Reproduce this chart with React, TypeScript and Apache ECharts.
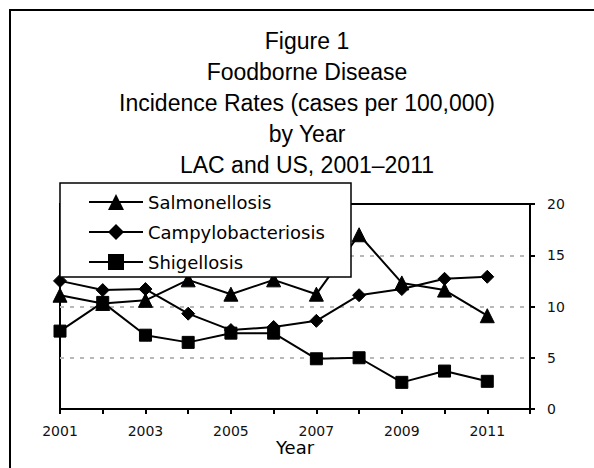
import React, { useEffect, useRef } from "react";
import * as echarts from "echarts";

const years = [2001, 2002, 2003, 2004, 2005, 2006, 2007, 2008, 2009, 2010, 2011];
const salmonellosis = [11.1, 10.3, 10.6, 12.6, 11.2, 12.6, 11.2, 17.0, 12.3, 11.6, 9.1];
const campylobacteriosis = [12.5, 11.6, 11.7, 9.3, 7.7, 8.0, 8.6, 11.1, 11.7, 12.7, 12.9];
const shigellosis = [7.6, 10.4, 7.2, 6.5, 7.4, 7.4, 4.9, 5.0, 2.6, 3.7, 2.7];
const seriesNames = ["Salmonellosis", "Campylobacteriosis", "Shigellosis"];
const titleLines = [
  "Figure 1",
  "Foodborne Disease",
  "Incidence Rates (cases per 100,000)",
  "by Year",
  "LAC and US, 2001\u20132011",
];

const SANS = "'DejaVu Sans', sans-serif";
const ARIAL = "'Liberation Sans', Arial, sans-serif";

export default function App() {
  const ref = useRef<HTMLDivElement>(null);
  useEffect(() => {
    if (!ref.current) return;
    const chart = echarts.init(ref.current, undefined, { renderer: "svg" });
    const mk = (name: string, vals: number[], symbol: string, size: number) => ({
      name,
      type: "line",
      data: years.map((y, i) => [y, vals[i]]),
      symbol,
      symbolSize: size,
      showAllSymbol: true,
      lineStyle: { color: "#000", width: 2 },
      itemStyle: { color: "#000", borderColor: "#000" },
      z: 2,
    });
    chart.setOption({
      animation: false,
      backgroundColor: "#fff",
      title: {
        text: titleLines.join("\n"),
        left: 302,
        top: 20,
        textAlign: "center",
        textStyle: {
          fontFamily: ARIAL,
          fontSize: 23,
          fontWeight: "normal",
          color: "#000",
          lineHeight: 31,
        },
      },
      graphic: [
        {
          type: "rect",
          shape: { x: 10, y: 10, width: 700, height: 600 },
          style: { fill: "none", stroke: "#000", lineWidth: 2 },
          z: 1,
          silent: true,
        },
        {
          type: "rect",
          shape: { x: 60, y: 183, width: 291, height: 94 },
          style: { fill: "#fff", stroke: "#000", lineWidth: 1.5 },
          z: 10,
          silent: true,
        },
      ],
      legend: {
        orient: "vertical",
        left: 60,
        top: 183,
        padding: [9, 10, 5, 28],
        itemWidth: 54,
        itemHeight: 20,
        itemGap: 10,
        z: 20,
        data: seriesNames,
        lineStyle: { width: 2 },
        textStyle: { fontFamily: SANS, fontSize: 18, color: "#000", lineHeight: 20 },
      },
      grid: {
        left: 60,
        right: 64,
        top: 204,
        bottom: 59,
        show: true,
        borderColor: "#000",
        borderWidth: 2,
        backgroundColor: "transparent",
      },
      xAxis: {
        type: "value",
        min: 2001,
        max: 2012,
        interval: 1,
        name: "Year",
        nameLocation: "middle",
        nameGap: 28,
        nameTextStyle: { fontFamily: SANS, fontSize: 18, color: "#000" },
        axisLine: { show: true, lineStyle: { color: "#000", width: 2 } },
        axisTick: { show: true, inside: false, length: 5, lineStyle: { color: "#000", width: 2 } },
        axisLabel: {
          margin: 15,
          fontFamily: SANS,
          fontSize: 14,
          color: "#111",
          formatter: (v: number) => (v % 2 === 1 && v <= 2011 ? String(v) : ""),
        },
        splitLine: { show: false },
      },
      yAxis: {
        type: "value",
        position: "right",
        min: 0,
        max: 20,
        interval: 5,
        axisLine: { show: true, lineStyle: { color: "#000", width: 2 } },
        axisTick: { show: true, inside: false, length: 5, lineStyle: { color: "#000", width: 2 } },
        axisLabel: { margin: 17, fontFamily: SANS, fontSize: 14, color: "#111" },
        splitLine: {
          show: true,
          showMinLine: false,
          showMaxLine: false,
          lineStyle: { color: "#b8b8b8", width: 2, type: [4, 6] },
        },
      },
      series: [
        mk(seriesNames[0], salmonellosis, "triangle", 14),
        mk(seriesNames[1], campylobacteriosis, "diamond", 13),
        mk(seriesNames[2], shigellosis, "rect", 12),
      ],
    });
    return () => chart.dispose();
  }, []);
  return (
    <div
      ref={ref}
      style={{ position: "fixed", left: 0, top: 0, width: 594, height: 468 }}
    />
  );
}
